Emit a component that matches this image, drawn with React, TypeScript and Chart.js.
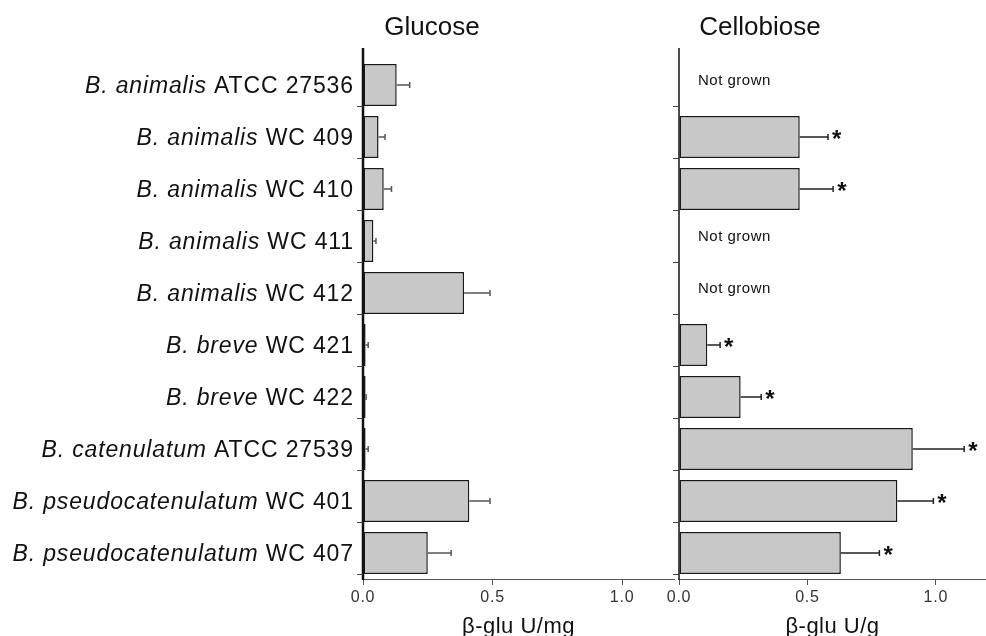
import React, { useEffect, useRef } from "react";
import { Chart, registerables } from "chart.js";
Chart.register(...registerables);

const speciesNames = [
  "B. animalis", "B. animalis", "B. animalis", "B. animalis", "B. animalis",
  "B. breve", "B. breve", "B. catenulatum", "B. pseudocatenulatum", "B. pseudocatenulatum",
];
const strainNames = [
  "ATCC 27536", "WC 409", "WC 410", "WC 411", "WC 412",
  "WC 421", "WC 422", "ATCC 27539", "WC 401", "WC 407",
];
const categories = speciesNames.map((s, i) => `${s} ${strainNames[i]}`);
const glucoseValues = [0.13, 0.06, 0.08, 0.04, 0.39, 0.01, 0.01, 0.01, 0.41, 0.25];
const glucoseErrors = [0.05, 0.025, 0.03, 0.01, 0.1, 0.01, 0.002, 0.01, 0.08, 0.09];
const cellobioseValues = [null, 0.47, 0.47, null, null, 0.11, 0.24, 0.91, 0.85, 0.63];
const cellobioseErrors = [null, 0.11, 0.13, null, null, 0.05, 0.08, 0.2, 0.14, 0.15];
const cellobioseSignificant = [false, true, true, false, false, true, true, true, true, true];
const glucoseSignificant = [false, false, false, false, false, false, false, false, false, false];
const notGrownText = "Not grown";
const xTickValues = [0, 0.5, 1.0];

const FONT = '"Liberation Sans", Arial, Helvetica, sans-serif';
const BAR_PCT = 0.808;

type PanelCfg = {
  values: (number | null)[];
  errors: (number | null)[];
  stars: boolean[];
  showLabels: boolean;
  title: string;
  titleDx: number;
  xTitle: string;
  axisWidth: number;
  errColor: string;
  max: number;
  yWidth: number;
  padRight: number;
};

function decorPlugin(cfg: PanelCfg) {
  return {
    id: "decor",
    beforeDraw(chart: any) {
      chart.ctx.letterSpacing = "0.8px";
    },
    afterDatasetsDraw(chart: any) {
      const ctx = chart.ctx;
      ctx.save();
      ctx.letterSpacing = "0px";
      const { left, top, bottom } = chart.chartArea;
      const xs = chart.scales.x;
      const ys = chart.scales.y;
      const band = ys.getPixelForValue(1) - ys.getPixelForValue(0);
      const half = (band * BAR_PCT) / 2;

      // y axis line
      ctx.strokeStyle = "#111";
      ctx.lineWidth = cfg.axisWidth;
      ctx.beginPath();
      ctx.moveTo(left, top - 11);
      ctx.lineTo(left, bottom + 1);
      ctx.stroke();

      // y ticks at bar bottoms
      ctx.strokeStyle = "#444";
      ctx.lineWidth = 1;
      for (let i = 0; i < categories.length; i++) {
        const y = Math.round(ys.getPixelForValue(i) + half) + 0.5;
        ctx.beginPath();
        ctx.moveTo(left - 6, y);
        ctx.lineTo(left, y);
        ctx.stroke();
      }

      // error bars, stars, not grown
      for (let i = 0; i < categories.length; i++) {
        const v = cfg.values[i];
        const yc = ys.getPixelForValue(i);
        if (v === null || v === undefined) {
          ctx.font = `15px ${FONT}`;
          ctx.letterSpacing = "0.5px";
          ctx.fillStyle = "#111";
          ctx.textAlign = "left";
          ctx.textBaseline = "alphabetic";
          ctx.fillText(notGrownText, left + 19, yc);
          ctx.letterSpacing = "0px";
          continue;
        }
        const e = cfg.errors[i] || 0;
        const x1 = xs.getPixelForValue(v);
        const x2 = xs.getPixelForValue(v + e);
        ctx.strokeStyle = cfg.errColor;
        ctx.lineWidth = 1.5;
        ctx.beginPath();
        ctx.moveTo(x1, yc);
        ctx.lineTo(x2, yc);
        ctx.moveTo(x2, yc - 3);
        ctx.lineTo(x2, yc + 3);
        ctx.stroke();
        if (cfg.stars[i]) {
          ctx.font = `bold 24px ${FONT}`;
          ctx.fillStyle = "#111";
          ctx.textAlign = "left";
          ctx.textBaseline = "alphabetic";
          ctx.fillText("*", x2 + 4, yc + 10);
        }
      }

      // category labels with italic species names
      if (cfg.showLabels) {
        const spacing = 0.85;
        ctx.letterSpacing = `${spacing}px`;
        ctx.fillStyle = "#111";
        ctx.textBaseline = "alphabetic";
        ctx.textAlign = "left";
        const rightX = left - 10;
        for (let i = 0; i < categories.length; i++) {
          const yc = ys.getPixelForValue(i);
          const itFont = `italic 23px ${FONT}`;
          const nFont = `23px ${FONT}`;
          ctx.font = itFont;
          const w1 = ctx.measureText(speciesNames[i]).width;
          ctx.font = nFont;
          const w2 = ctx.measureText(" " + strainNames[i]).width;
          const x0 = rightX - (w1 + w2) + spacing;
          ctx.font = itFont;
          ctx.fillText(speciesNames[i], x0, yc + 8);
          ctx.font = nFont;
          ctx.fillText(" " + strainNames[i], x0 + w1, yc + 8);
        }
      }

      // panel title
      ctx.letterSpacing = "0px";
      ctx.font = `26px ${FONT}`;
      ctx.fillStyle = "#111";
      ctx.textAlign = "center";
      ctx.textBaseline = "alphabetic";
      ctx.fillText(cfg.title, left + cfg.titleDx, 35);

      // x axis title
      ctx.letterSpacing = "0.5px";
      ctx.font = `22px ${FONT}`;
      ctx.fillText(cfg.xTitle, (xs.left + xs.right) / 2, 633);
      ctx.restore();
    },
  };
}

function buildChart(canvas: HTMLCanvasElement, cfg: PanelCfg) {
  return new Chart(canvas, {
    type: "bar",
    data: {
      labels: categories,
      datasets: [
        {
          data: cfg.values as any,
          backgroundColor: "#c8c8c8",
          borderColor: "#1a1a1a",
          borderWidth: 1.5,
          borderSkipped: false,
          barPercentage: BAR_PCT,
          categoryPercentage: 1,
        },
      ],
    },
    options: {
      indexAxis: "y",
      animation: false,
      responsive: false,
      devicePixelRatio: 1,
      layout: { padding: { top: 59, right: cfg.padRight, left: 0, bottom: 0 } },
      plugins: { legend: { display: false }, tooltip: { enabled: false }, title: { display: false } },
      scales: {
        x: {
          type: "linear",
          min: 0,
          max: cfg.max,
          afterBuildTicks: (s: any) => {
            s.ticks = xTickValues.map((v) => ({ value: v }));
          },
          afterFit: (s: any) => {
            s.height = 57;
          },
          ticks: {
            callback: (v: any) => Number(v).toFixed(1),
            font: { family: FONT, size: 16 },
            color: "#333",
            padding: 3,
            maxRotation: 0,
            autoSkip: false,
          },
          grid: { drawOnChartArea: false, drawTicks: true, tickLength: 6, color: "#555", lineWidth: 1 },
          border: { display: true, color: "#555", width: 1 },
        },
        y: {
          type: "category",
          offset: true,
          ticks: { display: false },
          grid: { display: false },
          border: { display: false },
          afterFit: (s: any) => {
            s.width = cfg.yWidth;
          },
        },
      },
    },
    plugins: [decorPlugin(cfg)],
  } as any);
}

export default function App() {
  const leftRef = useRef<HTMLCanvasElement>(null);
  const rightRef = useRef<HTMLCanvasElement>(null);

  useEffect(() => {
    const c1 = buildChart(leftRef.current!, {
      values: glucoseValues,
      errors: glucoseErrors,
      stars: glucoseSignificant,
      showLabels: true,
      title: "Glucose",
      titleDx: 69,
      xTitle: "β-glu U/mg",
      axisWidth: 2.5,
      errColor: "#555",
      max: 1.2,
      yWidth: 363,
      padRight: 6,
    });
    const c2 = buildChart(rightRef.current!, {
      values: cellobioseValues,
      errors: cellobioseErrors,
      stars: cellobioseSignificant,
      showLabels: false,
      title: "Cellobiose",
      titleDx: 81,
      xTitle: "β-glu U/g",
      axisWidth: 1.5,
      errColor: "#222",
      max: 1.195,
      yWidth: 39,
      padRight: 0,
    });
    return () => {
      c1.destroy();
      c2.destroy();
    };
  }, []);

  return (
    <div style={{ position: "fixed", left: 0, top: 0, width: 986, height: 636, background: "#fff", overflow: "hidden" }}>
      <canvas ref={leftRef} width={680} height={636} style={{ position: "absolute", left: 0, top: 0, width: 680, height: 636 }} />
      <canvas ref={rightRef} width={346} height={636} style={{ position: "absolute", left: 640, top: 0, width: 346, height: 636 }} />
    </div>
  );
}
